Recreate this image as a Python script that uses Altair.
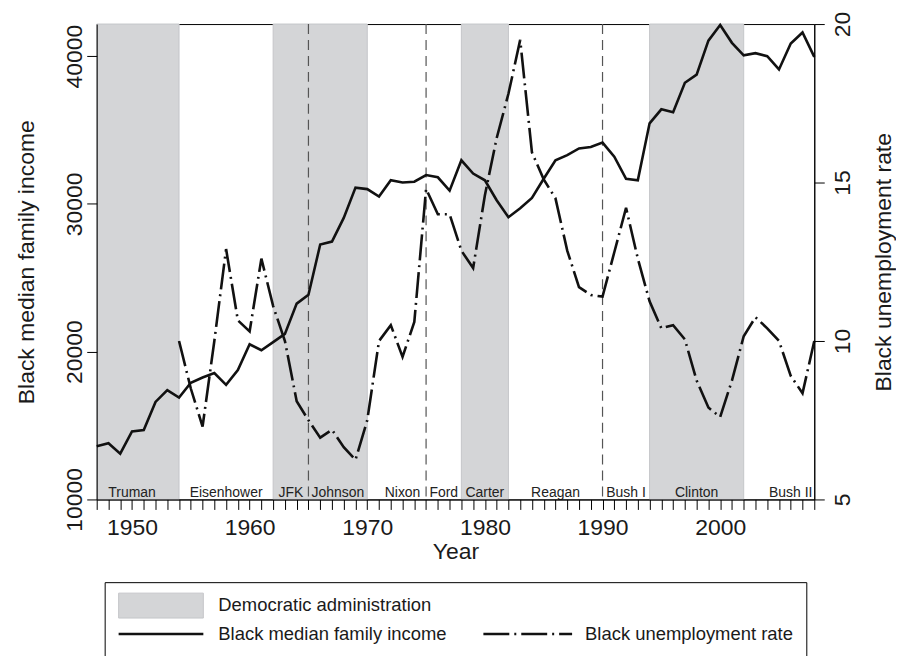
import altair as alt
import pandas as pd

# ---------------- data ----------------
income_years = list(range(1947, 2009))
income = [13600, 13800, 13100, 14600, 14700, 16600, 17400, 16900, 17900, 18250,
          18550, 17750, 18750, 20500, 20100, 20650, 21200, 23250, 23850, 27250,
          27450, 29050, 31100, 31000, 30500, 31600, 31450, 31500, 31950, 31800,
          30900, 32950, 32050, 31600, 30250, 29100, 29700, 30400, 31700, 32950,
          33300, 33750, 33850, 34150, 33200, 31700, 31600, 35450, 36400, 36200,
          38200, 38750, 41050, 42100, 40900, 40050, 40200, 40000, 39100, 40850,
          41600, 39950]

unemp_years = list(range(1954, 2009))
unemp = [10.0, 8.5, 7.3, 10.0, 12.9, 10.65, 10.3, 12.6, 11.1, 10.0,
         8.1, 7.5, 6.95, 7.2, 6.65, 6.25, 7.5, 10.0, 10.5, 9.5,
         10.6, 14.8, 14.0, 14.0, 12.85, 12.3, 14.6, 16.4, 17.8, 19.5,
         15.95, 15.1, 14.5, 12.85, 11.7, 11.45, 11.4, 12.8, 14.2, 12.6,
         11.25, 10.4, 10.5, 10.05, 8.75, 7.9, 7.6, 8.75, 10.15, 10.75,
         10.4, 10.0, 8.9, 8.35, 10.0]

dem_start = [1947, 1962, 1978, 1994]
dem_end = [1954, 1970, 1982, 2002]
transition_years = [1965, 1975, 1990]

president_names = ["Truman", "Eisenhower", "JFK", "Johnson", "Nixon", "Ford",
                   "Carter", "Reagan", "Bush I", "Clinton", "Bush II"]
president_label_year = [1950, 1958, 1963.5, 1967.5, 1973, 1976.5,
                        1980, 1986, 1992, 1998, 2006]

x_ticks = list(range(1947, 2009))
x_labels = [1950, 1960, 1970, 1980, 1990, 2000]
income_ticks = [10000, 20000, 30000, 40000]
unemp_ticks = [5, 10, 15, 20]
legend_labels = ["Democratic administration", "Black median family income",
                 "Black unemployment rate"]

# ---------------- style ----------------
FONT = "Liberation Sans"
TXT = "#1a1a1a"
GRAY = "#d4d5d7"
EDGE = "#c5c6c9"
DASHDOT = [26, 5, 2, 5]
W, H = 720, 477

income_df = pd.DataFrame({"year": income_years, "income": income})
unemp_df = pd.DataFrame({"year": unemp_years, "rate": unemp})
dem_df = pd.DataFrame({"start": dem_start, "end": dem_end})
trans_df = pd.DataFrame({"year": transition_years})
pres_df = pd.DataFrame({"name": president_names, "year": president_label_year})

x_scale = alt.Scale(domain=[1947, 2008], nice=False, zero=False)
label_list = ",".join(str(v) for v in x_labels)
x_axis = alt.Axis(
    values=x_ticks,
    labelExpr=f"indexof([{label_list}], datum.value) >= 0 ? datum.label : ''",
    format="d", title="Year", grid=False, tickSize=10, labelPadding=7,
    titlePadding=1, labelFontSize=23, titleFontSize=23, labelFont=FONT,
    titleFont=FONT, titleFontWeight="normal", labelColor=TXT, titleColor=TXT,
    domainColor="black", tickColor="black", labelOverlap=False,
    labelFlush=False, zindex=1,
)


def xq(field):
    return alt.X(field, type="quantitative", scale=x_scale, axis=x_axis)


rects = alt.Chart(dem_df).mark_rect(fill=GRAY, stroke=EDGE, strokeWidth=1).encode(
    x=xq("start"), x2="end"
)

rules = alt.Chart(trans_df).mark_rule(
    color="#555555", strokeWidth=1.2, strokeDash=[10, 6]
).encode(x=xq("year"))

names = alt.Chart(pres_df).mark_text(
    font=FONT, fontSize=14, color="#222222", align="center", baseline="alphabetic"
).encode(x=xq("year"), y=alt.value(H - 2), text="name:N")

income_line = alt.Chart(income_df).mark_line(
    color="#111111", strokeWidth=2.6
).encode(
    x=xq("year"),
    y=alt.Y("income:Q",
            scale=alt.Scale(domain=[10000, 42170], nice=False, zero=False),
            axis=alt.Axis(orient="left", values=income_ticks, format="d",
                          grid=False, tickSize=10, labelAngle=270,
                          labelAlign="center", labelBaseline="bottom",
                          labelPadding=0, labelFontSize=23, labelFont=FONT,
                          labelColor=TXT, title="Black median family income",
                          titleAngle=270, titleBaseline="bottom",
                          titlePadding=25, titleFontSize=23, titleFont=FONT,
                          titleFontWeight="normal", titleColor=TXT,
                          domainColor="black", tickColor="black",
                          labelOverlap=False, labelFlush=False, zindex=1)),
)

unemp_line = alt.Chart(unemp_df).mark_line(
    color="#111111", strokeWidth=2.6, strokeDash=DASHDOT
).encode(
    x=xq("year"),
    y=alt.Y("rate:Q",
            scale=alt.Scale(domain=[5, 20], nice=False, zero=False),
            axis=alt.Axis(orient="right", values=unemp_ticks, format="d",
                          grid=False, tickSize=10, labelAngle=270,
                          labelAlign="center", labelBaseline="top",
                          labelPadding=7, labelFontSize=23, labelFont=FONT,
                          labelColor=TXT, title="Black unemployment rate",
                          titleAngle=270, titleBaseline="top",
                          titlePadding=18, titleFontSize=23, titleFont=FONT,
                          titleFontWeight="normal", titleColor=TXT,
                          domainColor="black", tickColor="black",
                          labelOverlap=False, labelFlush=False, zindex=1)),
)

main = alt.layer(rects, rules, names, income_line, unemp_line).resolve_scale(
    y="independent"
).properties(width=W, height=H)

# ---------------- legend panel ----------------
LW, LH = 704, 80
one = lambda i: pd.DataFrame({"label": [legend_labels[i]]})

sw = alt.Chart(one(0)).mark_rect(fill=GRAY, stroke=EDGE, strokeWidth=1).encode(
    x=alt.value(14), x2=alt.value(99), y=alt.value(11), y2=alt.value(36)
)
t0 = alt.Chart(one(0)).mark_text(
    font=FONT, fontSize=18.5, color=TXT, align="left", baseline="middle"
).encode(x=alt.value(114), y=alt.value(23), text="label:N")
ls = alt.Chart(one(1)).mark_rule(color="#111111", strokeWidth=2.6).encode(
    x=alt.value(14), x2=alt.value(99), y=alt.value(52)
)
t1 = alt.Chart(one(1)).mark_text(
    font=FONT, fontSize=18.5, color=TXT, align="left", baseline="middle"
).encode(x=alt.value(114), y=alt.value(52), text="label:N")
ds = alt.Chart(one(2)).mark_rule(
    color="#111111", strokeWidth=2.6, strokeDash=DASHDOT
).encode(x=alt.value(380), x2=alt.value(469), y=alt.value(52))
t2 = alt.Chart(one(2)).mark_text(
    font=FONT, fontSize=18.5, color=TXT, align="left", baseline="middle"
).encode(x=alt.value(482), y=alt.value(52), text="label:N")

legend = alt.layer(sw, t0, ls, t1, ds, t2).properties(width=LW, height=LH)

chart = alt.vconcat(main, legend, spacing=83, center=True, bounds="flush").properties(
    padding={"left": 7, "top": 1, "right": 0, "bottom": 0},
    background="white",
).configure_view(stroke="black", strokeWidth=1)

chart.save("out.html", embed_options={"renderer": "svg", "actions": False})
